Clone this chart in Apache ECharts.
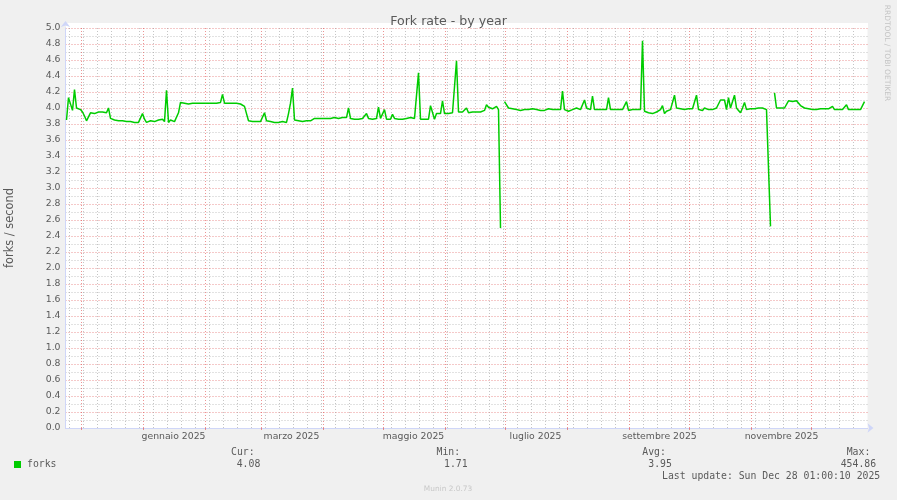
<!DOCTYPE html>
<html>
<head>
<meta charset="utf-8">
<script src="https://cdn.jsdelivr.net/npm/echarts@6/dist/echarts.min.js"></script>
<style>
html,body{margin:0;padding:0;background:#f0f0f0;}
#chart{width:897px;height:500px;}
</style>
</head>
<body>
<div id="chart"></div>
<script>
// ---- data (daily values, starting 2024-11-23) ----
const startDate = '2024-11-23';
const forks = [
3.85,4.13,4.12,3.97,4.23,4.00,3.99,3.98,3.95,3.90,
3.84,3.89,3.94,3.93,3.93,3.94,3.95,3.95,3.95,3.94,
3.94,4.00,3.87,3.85,3.85,3.84,3.84,3.85,3.84,3.83,
3.83,3.82,3.83,3.82,3.82,3.83,3.82,3.82,3.93,3.86,
3.82,3.82,3.84,3.83,3.83,3.84,3.85,3.83,3.86,3.83,
4.22,3.82,3.85,3.83,3.83,3.83,3.94,4.07,4.07,4.06,
4.07,4.05,4.06,4.06,4.05,4.06,4.06,4.06,4.05,4.06,
4.06,4.06,4.06,4.06,4.06,4.06,4.06,4.07,4.17,4.06,
4.07,4.06,4.06,4.06,4.06,4.06,4.07,4.05,4.04,4.02,
3.93,3.84,3.83,3.83,3.83,3.83,3.82,3.83,3.83,3.94,
3.84,3.85,3.83,3.82,3.82,3.81,3.82,3.82,3.83,3.82,
3.82,3.93,4.06,4.25,3.85,3.83,3.84,3.85,3.83,3.84,
3.84,3.83,3.84,3.85,3.87,3.88,3.87,3.87,3.87,3.87,
3.87,3.87,3.87,3.87,3.88,3.88,3.87,3.87,3.88,3.88,
3.88,4.00,3.87,3.86,3.86,3.86,3.86,3.86,3.87,3.87,
3.93,3.87,3.86,3.86,3.87,3.87,4.01,3.87,3.89,3.98,
3.86,3.85,3.86,3.92,3.87,3.86,3.86,3.85,3.86,3.87,
3.87,3.88,3.88,3.87,3.87,3.87,4.44,3.86,3.86,3.86,
3.86,3.86,4.03,4.04,3.86,3.93,3.93,3.93,4.09,3.93,
3.93,3.93,3.94,3.94,3.94,4.59,3.95,3.94,3.95,3.95,
4.00,3.94,3.95,3.95,3.95,3.95,3.95,3.95,3.95,3.97,
4.04,4.01,4.00,3.99,4.00,4.02,3.98,2.50,null,4.08,
4.07,4.00,3.99,3.99,3.98,3.98,3.96,3.97,3.98,3.98,
3.98,3.98,3.98,3.99,3.98,3.98,3.97,3.97,3.96,3.97,
3.98,3.99,3.98,3.98,3.97,3.98,3.98,3.98,4.21,3.98,
3.97,3.96,3.97,3.98,3.99,4.00,3.98,3.98,3.98,4.10,
4.00,3.98,3.98,4.15,3.98,3.98,3.98,3.98,3.98,3.98,
3.98,4.13,3.98,3.99,3.98,3.98,3.98,3.98,3.98,3.98,
4.08,3.97,3.96,3.98,3.98,3.98,3.98,3.98,4.84,3.96,
3.95,3.94,3.96,3.93,3.95,3.95,3.93,3.98,4.03,3.93,
3.96,3.97,3.98,3.99,4.16,4.00,3.98,3.99,3.99,3.98,
3.99,3.99,4.00,3.99,3.98,4.16,3.98,3.98,3.97,4.00,
4.00,3.98,3.98,3.98,3.99,4.00,4.01,4.10,4.10,4.10,
3.98,4.13,4.00,4.00,4.16,4.00,3.97,3.94,4.00,4.07,
3.98,4.00,3.99,3.98,3.99,4.00,4.00,4.00,4.00,3.99,
3.98,3.97,2.52,null,4.19,4.00,4.00,4.00,4.00,4.00,
4.01,4.09,4.09,4.08,4.09,4.09,4.09,4.03,4.01,4.00,
3.99,3.99,3.98,3.98,3.98,3.98,3.98,3.99,3.98,3.99,
3.98,3.99,4.00,4.02,3.98,3.98,3.98,3.98,3.98,3.99,
4.04,3.98,4.00,3.98,3.98,3.98,3.98,3.98,3.98,4.08
];
const monthStarts = ['2024-12-01','2025-01-01','2025-02-01','2025-03-01','2025-04-01','2025-05-01',
  '2025-06-01','2025-07-01','2025-08-01','2025-09-01','2025-10-01','2025-11-01','2025-12-01'];
const monthLabelDates = ['2025-01-16','2025-03-16','2025-05-16','2025-07-16','2025-09-16','2025-11-16'];
const monthLabels = ['gennaio 2025','marzo 2025','maggio 2025','luglio 2025','settembre 2025','novembre 2025'];
const firstMonday = '2024-11-25';
const spanDays = 401;
const seriesName = 'forks';
const statNames = ['Cur:','Min:','Avg:','Max:'];
const statValues = ['4.08','1.71','3.95','454.86'];
const lastUpdate = 'Last update: Sun Dec 28 01:00:10 2025';

// ---- build ----
const DAY = 86400000;
const ts = s => { const p = s.split('-'); return Date.UTC(+p[0], +p[1]-1, +p[2]); };
const T0 = ts(startDate);
const T1 = T0 + spanDays * DAY;
const seriesData = forks.map((v, i) => [T0 + (i + 0.5) * DAY, v]);
const monthTicks = monthStarts.map(ts);
const labelTicks = monthLabelDates.map(ts);
const labelMap = {};
labelTicks.forEach((t, k) => labelMap[t] = monthLabels[k]);
const weekTicks = [];
for (let t = ts(firstMonday); t < T1; t += 7 * DAY) {
  if (monthTicks.indexOf(t) < 0) weekTicks.push(t);
}

const FONT = 'DejaVu Sans';
const TXT = '#5a5a5a';
const MAJ = 'rgba(220,60,60,0.55)';
const MIN = 'rgba(150,150,150,0.55)';
const AXIS = '#CFD6F8';
const GREEN = '#00CC00';

const chart = echarts.init(document.getElementById('chart'), null, {renderer: 'canvas'});

const graphics = [
  {type:'rect', z:-5, shape:{x:66, y:23, width:802, height:6}, style:{fill:'#ffffff'}},
  {type:'text', x:10, y:228, rotation:Math.PI/2,
   style:{text:'forks / second', font:'11.4px "DejaVu Sans"', fill:TXT, align:'center', verticalAlign:'middle'}},
  {type:'text', x:887, y:53, rotation:-Math.PI/2,
   style:{text:'RRDTOOL / TOBI OETIKER', font:'7.5px "DejaVu Sans"', fill:'#c4c4c4', align:'center', verticalAlign:'middle'}},
  {type:'rect', shape:{x:14, y:461, width:7, height:7}, style:{fill:GREEN}},
  {type:'text', x:27, y:464.5, style:{text:seriesName, font:'9.8px "DejaVu Sans Mono"', fill:TXT, verticalAlign:'middle'}},
  {type:'text', x:662, y:476.5, style:{text:lastUpdate, font:'9.8px "DejaVu Sans Mono"', fill:TXT, verticalAlign:'middle'}},
  {type:'text', x:448, y:489.5, style:{text:'Munin 2.0.73', font:'7.4px "DejaVu Sans"', fill:'#c8c8c8', align:'center', verticalAlign:'middle'}}
];
const nameX = [231, 436.5, 642.3, 846.7];
const valX = [236.7, 444, 648.3, 840.7];
statNames.forEach((n, k) => {
  graphics.push({type:'text', x:nameX[k], y:452.5, style:{text:n, font:'9.8px "DejaVu Sans Mono"', fill:TXT, verticalAlign:'middle'}});
  graphics.push({type:'text', x:valX[k], y:464.5, style:{text:statValues[k], font:'9.8px "DejaVu Sans Mono"', fill:TXT, verticalAlign:'middle'}});
});

const option = {
  animation: false,
  backgroundColor: '#f0f0f0',
  title: {
    text: 'Fork rate - by year', left: 'center', top: 10,
    textStyle: {fontFamily: FONT, fontSize: 12.6, fontWeight: 'normal', color: TXT}
  },
  grid: {left: 65.5, top: 28, width: 802, height: 400, show: true, backgroundColor: '#ffffff', borderWidth: 0,
         containLabel: false, outerBoundsMode: 'none'},
  xAxis: [
    {
      type: 'value', position: 'bottom', min: T0, max: T1,
      axisLine: {show: true, lineStyle: {color: AXIS, width: 1}, symbol: ['none', 'arrow'], symbolSize: [7, 6], symbolOffset: [0, 6]},
      axisTick: {show: true, length: 2, lineStyle: {color: MAJ}, customValues: monthTicks},
      axisLabel: {show: true, customValues: labelTicks, margin: 4, fontFamily: FONT, fontSize: 9.3, color: TXT,
                  formatter: v => labelMap[v] || ''},
      splitLine: {show: true, lineStyle: {color: MAJ, type: [1, 2], width: 1}}
    }
  ],
  yAxis: [
    {
      type: 'value', min: 0, max: 5, interval: 0.2,
      axisLine: {show: true, onZero: false, lineStyle: {color: AXIS, width: 1}, symbol: ['none', 'arrow'], symbolSize: [7, 6], symbolOffset: [0, 7]},
      axisTick: {show: false},
      axisLabel: {margin: 5, fontFamily: FONT, fontSize: 9.3, color: TXT, formatter: v => v.toFixed(1)},
      splitLine: {show: true, lineStyle: {color: MAJ, type: [1, 2], width: 1}},
      minorTick: {show: false, splitNumber: 2},
      minorSplitLine: {show: true, lineStyle: {color: MIN, type: [1, 2], width: 1}}
    }
  ],
  series: [
    {
      name: seriesName, type: 'line', xAxisIndex: 0, yAxisIndex: 0,
      data: seriesData, showSymbol: false, symbol: 'none', connectNulls: false,
      lineStyle: {color: GREEN, width: 1.5}, z: 5,
      markLine: {
        silent: true, z: 1, symbol: ['none', 'none'], label: {show: false}, animation: false,
        lineStyle: {color: MIN, type: [1, 2], width: 1},
        emphasis: {disabled: true},
        data: weekTicks.map(t => ({xAxis: t}))
      }
    }
  ],
  graphic: graphics
};
chart.setOption(option);
</script>
</body>
</html>
